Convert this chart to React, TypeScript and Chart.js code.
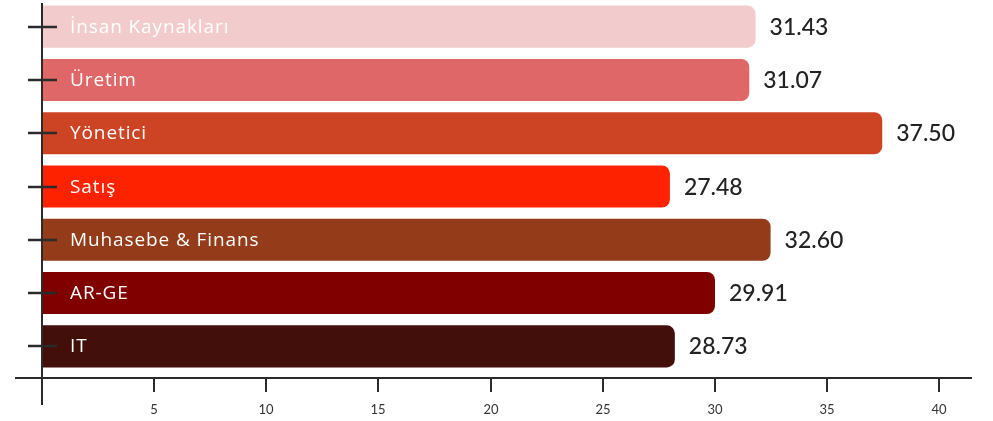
import React, { useEffect, useRef } from "react";
import { Chart, registerables } from "chart.js";

Chart.register(...registerables);

const categories = [
  "İnsan Kaynakları",
  "Üretim",
  "Yönetici",
  "Satış",
  "Muhasebe & Finans",
  "AR-GE",
  "IT",
];
// bar lengths as drawn in the picture
const barValues = [31.82, 31.54, 37.47, 28.0, 32.49, 30.01, 28.22];
// numbers printed next to the bars
const shownValues = [31.43, 31.07, 37.5, 27.48, 32.6, 29.91, 28.73];
const barColors = ["#f2cccc", "#e06767", "#cc4424", "#fe2200", "#943b1a", "#800000", "#430f0a"];
const xTicks = [5, 10, 15, 20, 25, 30, 35, 40];

const FONT = "Lato, 'Noto Sans', sans-serif";
const LABEL_FONT = "'Open Sans', 'Noto Sans', sans-serif";

const decorPlugin = {
  id: "decor",
  afterDatasetsDraw(chart: any) {
    const ctx = chart.ctx;
    const xs = chart.scales.x;
    const area = chart.chartArea;
    const meta = chart.getDatasetMeta(0);
    const axisY = area.bottom + 5;
    const axisX = xs.getPixelForValue(0);
    ctx.save();
    ctx.strokeStyle = "#2b2b2b";
    ctx.lineWidth = 2;
    // x axis line
    ctx.beginPath();
    ctx.moveTo(axisX - 27, axisY);
    ctx.lineTo(area.right + 33, axisY);
    ctx.stroke();
    // y axis line
    ctx.beginPath();
    ctx.moveTo(axisX, area.top + 3);
    ctx.lineTo(axisX, axisY + 27);
    ctx.stroke();
    // x ticks
    ctx.fillStyle = "#333";
    ctx.font = `13px ${FONT}`;
    ctx.textAlign = "center";
    ctx.textBaseline = "middle";
    xTicks.forEach((v) => {
      const px = Math.round(xs.getPixelForValue(v));
      ctx.beginPath();
      ctx.moveTo(px, axisY);
      ctx.lineTo(px, axisY + 14);
      ctx.stroke();
      ctx.fillText(String(v), px, axisY + 32);
    });
    // y ticks + labels
    meta.data.forEach((bar: any, i: number) => {
      const y = Math.round(bar.y);
      ctx.lineWidth = 2.5;
      ctx.beginPath();
      ctx.moveTo(axisX - 14, y);
      ctx.lineTo(axisX + 15, y);
      ctx.stroke();
      ctx.fillStyle = "#ffffff";
      ctx.font = `500 19px ${LABEL_FONT}`;
      ctx.letterSpacing = "0.9px";
      ctx.textAlign = "left";
      ctx.fillText(categories[i], axisX + 28, y + 1);
      ctx.letterSpacing = "0px";
      ctx.fillStyle = "#222";
      ctx.font = `500 23px ${FONT}`;
      ctx.fillText(shownValues[i].toFixed(2), bar.x + 14, y + 1);
    });
    ctx.restore();
  },
};

export default function App() {
  const ref = useRef<HTMLCanvasElement>(null);
  useEffect(() => {
    document.body.style.margin = "0";
    const chart = new Chart(ref.current as HTMLCanvasElement, {
      type: "bar",
      data: {
        labels: categories,
        datasets: [
          {
            data: barValues,
            backgroundColor: barColors,
            borderWidth: 0,
            borderRadius: 8,
            borderSkipped: "start",
            barPercentage: 0.79,
            categoryPercentage: 1,
          },
        ],
      },
      options: {
        indexAxis: "y",
        responsive: false,
        animation: false,
        layout: { padding: { left: 42, right: 54, top: 0, bottom: 48 } },
        plugins: { legend: { display: false }, tooltip: { enabled: false } },
        scales: {
          x: { type: "linear", min: 0, max: 40, display: false },
          y: { type: "category", display: false },
        },
      },
      plugins: [decorPlugin],
    });
    return () => chart.destroy();
  }, []);
  return (
    <div style={{ width: 993, height: 421 }}>
      <canvas ref={ref} width={993} height={421} style={{ display: "block" }} />
    </div>
  );
}
